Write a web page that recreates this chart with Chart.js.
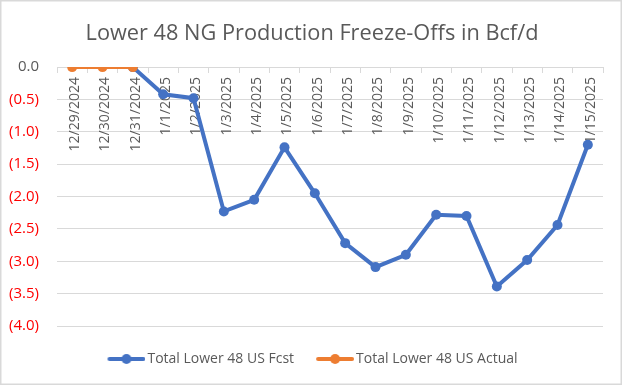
<!DOCTYPE html>
<html>
<head>
<meta charset="utf-8">
<script src="https://cdn.jsdelivr.net/npm/chart.js@4"></script>
<style>
  html, body { margin: 0; padding: 0; background: #ffffff; }
  #wrap { width: 624px; height: 386px; }
</style>
</head>
<body>
<div id="wrap"><canvas id="chart-freeze"></canvas></div>
<script>
const labels_freeze = [
    '12/29/2024', '12/30/2024', '12/31/2024',
    '1/1/2025', '1/2/2025', '1/3/2025', '1/4/2025', '1/5/2025',
    '1/6/2025', '1/7/2025', '1/8/2025', '1/9/2025', '1/10/2025',
    '1/11/2025', '1/12/2025', '1/13/2025', '1/14/2025', '1/15/2025',
];
const fcst_values = [
    null, null, 0,
    -0.42, -0.48, -2.23, -2.05, -1.24,
    -1.95, -2.72, -3.09, -2.90, -2.28,
    -2.30, -3.39, -2.98, -2.44, -1.20,
];
const actual_values = [
    0, 0, 0,
    null, null, null, null, null,
    null, null, null, null, null,
    null, null, null, null, null,
];
const y_min = -4.0;
const y_max = 0;
const y_step = 0.5;

const blue = '#4472C4';
const orange = '#ED7D31';
const gray_text = '#595959';
const grid_gray = '#D9D9D9';
const font_family = "'Open Sans', 'Liberation Sans', sans-serif";

// legend swatch: short line with a dot in the middle, like Excel
// (canvas is wider than the legend box so the text sits close to the line)
function legendSwatch(color) {
    const c = document.createElement('canvas');
    c.width = 44;
    c.height = 12;
    const g = c.getContext('2d');
    g.strokeStyle = color;
    g.lineWidth = 4;
    g.lineCap = 'round';
    g.beginPath();
    g.moveTo(8, 6);
    g.lineTo(42, 6);
    g.stroke();
    g.fillStyle = color;
    g.beginPath();
    g.arc(25, 6, 5, 0, Math.PI * 2);
    g.fill();
    return c;
}

const frame_plugin = {
    id: 'frame',
    beforeDraw(chart) {
        const ctx = chart.ctx;
        ctx.save();
        ctx.fillStyle = '#ffffff';
        ctx.fillRect(0, 0, chart.width, chart.height);
        ctx.strokeStyle = grid_gray;
        ctx.lineWidth = 1.5;
        ctx.strokeRect(0.75, 0.75, chart.width - 3.5, chart.height - 2.5);
        ctx.restore();
    }
};

const data_freeze = {
    labels: labels_freeze,
    datasets: [{
        label: 'Total Lower 48 US Fcst',
        data: fcst_values,
        borderColor: blue,
        backgroundColor: blue,
        borderWidth: 4,
        pointRadius: 5,
        pointHoverRadius: 5,
        pointBorderWidth: 0,
        order: 1,
    },
    {
        label: 'Total Lower 48 US Actual',
        data: actual_values,
        borderColor: orange,
        backgroundColor: orange,
        borderWidth: 4,
        pointRadius: 5,
        pointHoverRadius: 5,
        pointBorderWidth: 0,
        order: 0,
    }]
};

// empty spacer axes, only there to hold room on the right and bottom
const spacer = size => ({
    display: true,
    grid: { display: false },
    border: { display: false },
    ticks: { display: false },
    afterFit(scale) {
        if (scale.isHorizontal()) scale.height = size; else scale.width = size;
    }
});

const config_freeze = {
    type: 'line',
    data: data_freeze,
    plugins: [frame_plugin],
    options: {
        responsive: true,
        maintainAspectRatio: false,
        animation: false,
        layout: {
            padding: { left: 0, right: 0, top: 0, bottom: 10 }
        },
        plugins: {
            title: {
                display: true,
                text: 'Lower 48 NG Production Freeze-Offs in Bcf/d',
                color: gray_text,
                font: { family: font_family, size: 21.75, weight: 'normal' },
                padding: { top: 21, bottom: 20 }
            },
            legend: {
                position: 'bottom',
                labels: {
                    color: gray_text,
                    font: { family: font_family, size: 14 },
                    usePointStyle: true,
                    pointStyleWidth: 34,
                    padding: 21,
                    generateLabels(chart) {
                        const items = Chart.defaults.plugins.legend.labels.generateLabels(chart);
                        items.sort((a, b) => a.datasetIndex - b.datasetIndex);
                        items.forEach(it => {
                            it.pointStyle = legendSwatch(chart.data.datasets[it.datasetIndex].borderColor);
                        });
                        return items;
                    }
                }
            },
            tooltip: { enabled: false }
        },
        scales: {
            x: {
                position: { y: 0 },
                offset: true,
                grid: {
                    drawOnChartArea: false,
                    drawTicks: true,
                    tickLength: 5,
                    offset: true,
                    color: grid_gray
                },
                border: { color: grid_gray, width: 1 },
                ticks: {
                    autoSkip: false,
                    minRotation: 90,
                    maxRotation: 90,
                    padding: 5,
                    labelOffset: 3,
                    color: gray_text,
                    font: { family: font_family, size: 14 }
                }
            },
            xSpace: Object.assign({ type: 'category', axis: 'x', position: 'bottom' }, spacer(5)),
            y: {
                min: y_min,
                max: y_max,
                afterFit(scale) { scale.width = 57; },
                grid: {
                    color: grid_gray,
                    lineWidth: 1,
                    drawTicks: false
                },
                border: { display: false },
                ticks: {
                    stepSize: y_step,
                    padding: 18,
                    color: ctx => ctx.tick.value < 0 ? '#FF0000' : gray_text,
                    font: { family: font_family, size: 15 },
                    callback: v => v === 0 ? '0.0' : '(' + Math.abs(v).toFixed(1) + ')'
                }
            },
            ySpace: Object.assign({ type: 'linear', axis: 'y', position: 'right' }, spacer(21))
        }
    }
};

var chart_freeze = new Chart(
    document.getElementById('chart-freeze'),
    config_freeze
);
</script>
</body>
</html>
